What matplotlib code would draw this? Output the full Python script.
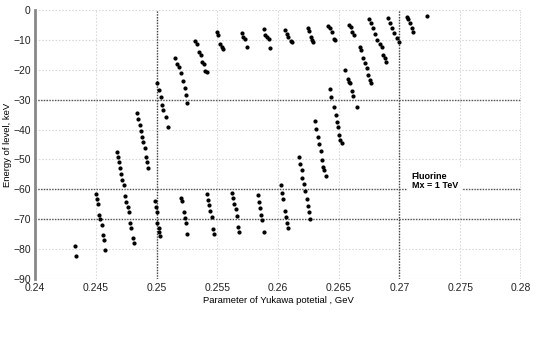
import numpy as np
import matplotlib
matplotlib.use('Agg')
import matplotlib.pyplot as plt

plt.rcParams['font.family'] = ['Liberation Sans', 'DejaVu Sans']

# energy levels vs Yukawa parameter, one chunk per level branch
yukawa = [
    0.24329, 0.24340,
    0.24500, 0.24509, 0.24521, 0.24529, 0.24537, 0.24551, 0.24560, 0.24570, 0.24579,
    0.24675, 0.24683, 0.24694, 0.24702, 0.24710, 0.24718, 0.24730, 0.24741, 0.24749,
    0.24763, 0.24771, 0.24784, 0.24793, 0.24804, 0.24815,
    0.24842, 0.24850, 0.24862, 0.24872, 0.24883, 0.24891, 0.24905, 0.24914, 0.24922, 0.24930,
    0.24985, 0.24993, 0.25002, 0.25007, 0.25018, 0.25023, 0.25031,
    0.25002, 0.25021, 0.25035, 0.25043, 0.25056, 0.25076, 0.25097,
    0.25152, 0.25169, 0.25185, 0.25199, 0.25216, 0.25232, 0.25245, 0.25253,
    0.25199, 0.25212, 0.25224, 0.25237, 0.25243, 0.25251,
    0.25314, 0.25331, 0.25347, 0.25364, 0.25377, 0.25393, 0.25399, 0.25413,
    0.25413, 0.25426, 0.25432, 0.25443, 0.25454, 0.25462, 0.25471,
    0.25495, 0.25509, 0.25523, 0.25537, 0.25550,
    0.25619, 0.25632, 0.25640, 0.25652, 0.25662, 0.25673, 0.25681,
    0.25701, 0.25714, 0.25728, 0.25742,
    0.25833, 0.25844, 0.25852, 0.25863, 0.25871, 0.25882,
    0.25887, 0.25893, 0.25912, 0.25926, 0.25934,
    0.26022, 0.26035, 0.26041, 0.26055, 0.26063, 0.26071, 0.26080,
    0.26058, 0.26072, 0.26085, 0.26104, 0.26113,
    0.26173, 0.26181, 0.26195, 0.26200, 0.26214, 0.26225, 0.26236, 0.26244, 0.26255, 0.26266,
    0.26244, 0.26258, 0.26269, 0.26282, 0.26291,
    0.26307, 0.26315, 0.26327, 0.26340, 0.26351, 0.26362, 0.26373, 0.26381, 0.26395,
    0.26414, 0.26428, 0.26442, 0.26461, 0.26469,
    0.26428, 0.26436, 0.26461, 0.26475, 0.26486, 0.26496, 0.26505, 0.26513, 0.26524,
    0.26554, 0.26573, 0.26584, 0.26593, 0.26606, 0.26620, 0.26648,
    0.26587, 0.26598, 0.26606, 0.26628,
    0.26675, 0.26683, 0.26702, 0.26716, 0.26730, 0.26743, 0.26757, 0.26765,
    0.26751, 0.26765, 0.26779, 0.26798, 0.26817, 0.26839, 0.26853,
    0.26862, 0.26881, 0.26889,
    0.26908, 0.26922, 0.26941, 0.26957, 0.26977, 0.26996,
    0.27059, 0.27072, 0.27086, 0.27100, 0.27108,
    0.27224,
]
energy = [
    -78.9, -82.2,
    -61.7, -63.3, -64.9, -68.6, -70.0, -71.9, -75.3, -77.1, -80.4,
    -47.4, -49.3, -51.0, -52.9, -54.9, -56.9, -58.7, -62.3, -64.1,
    -65.8, -67.5, -71.2, -72.8, -76.2, -77.9,
    -34.5, -36.6, -38.5, -40.5, -42.4, -44.3, -46.3, -49.1, -51.0, -52.8,
    -63.9, -65.8, -67.7, -71.4, -72.8, -74.4, -75.5,
    -24.4, -26.9, -29.2, -31.8, -33.5, -35.7, -39.0,
    -15.9, -18.1, -19.0, -21.2, -23.8, -26.2, -28.4, -31.0,
    -62.8, -63.8, -67.7, -69.6, -71.4, -75.1,
    -10.3, -11.4, -13.9, -15.1, -17.3, -18.1, -20.4, -20.6,
    -61.5, -63.5, -65.4, -67.4, -69.3, -73.2, -75.0,
    -7.3, -8.4, -11.4, -12.3, -13.1,
    -61.1, -63.0, -64.9, -66.7, -68.8, -72.5, -74.4,
    -7.8, -8.9, -9.8, -12.5,
    -61.9, -64.1, -66.1, -68.5, -70.3, -74.2,
    -6.5, -8.4, -8.9, -9.8, -12.6,
    -58.7, -61.1, -63.1, -67.3, -69.4, -71.2, -73.0,
    -6.7, -8.0, -9.1, -10.4, -10.8,
    -49.3, -51.5, -53.5, -56.1, -58.3, -60.6, -63.3, -65.6, -67.7, -69.9,
    -5.9, -7.0, -8.9, -10.0, -10.8,
    -37.3, -39.9, -42.6, -44.8, -47.2, -50.2, -52.6, -53.5, -55.5,
    -5.2, -5.9, -7.2, -9.8, -10.0,
    -26.4, -29.0, -32.6, -35.1, -37.5, -39.0, -41.7, -43.5, -44.6,
    -20.1, -23.2, -24.0, -24.5, -27.0, -28.8, -32.4,
    -5.0, -5.6, -7.2, -8.4,
    -12.3, -13.4, -16.2, -17.8, -19.5, -21.7, -23.4, -24.5,
    -3.0, -4.5, -5.9, -8.1, -10.0, -11.5, -12.3,
    -15.1, -16.2, -17.3,
    -2.8, -4.5, -6.1, -7.8, -9.5, -10.8,
    -2.2, -3.0, -4.5, -6.1, -7.2,
    -2.0,
]
x_ticks = [0.24, 0.245, 0.25, 0.255, 0.26, 0.265, 0.27, 0.275, 0.28]
x_ticklabels = ['0.24', '0.245', '0.25', '0.255', '0.26', '0.265', '0.27', '0.275', '0.28']
y_ticks = [0, -10, -20, -30, -40, -50, -60, -70, -80, -90]
dark_x = [0.25, 0.27, 0.28]
dark_y = [-30, -60, -70]

fig = plt.figure(figsize=(5.54, 3.4), dpi=100)
ax = fig.add_axes([0.0632, 0.1794, 0.8772, 0.7912])

# light dotted grid everywhere, darker dotted lines at selected values
for xv in x_ticks:
    ax.axvline(xv, color='#dadada', lw=0.8, ls=(0, (1.5, 1.5)), zorder=0)
for yv in y_ticks:
    ax.axhline(yv, color='#dadada', lw=0.8, ls=(0, (1.5, 1.5)), zorder=0)
for xv in dark_x:
    ax.axvline(xv, color='#444444', lw=1.0, ls=(0, (1, 1)), zorder=1)
for yv in dark_y:
    ax.axhline(yv, color='#555555', lw=1.0, ls=(0, (1, 1)), zorder=1)

ax.plot(yukawa, energy, ls='none', marker='o', ms=2.0, color='black', zorder=3)

ax.set_xlim(0.24, 0.28)
ax.set_ylim(-90, 0)
ax.set_xticks(x_ticks)
ax.set_xticklabels(x_ticklabels)
ax.set_yticks(y_ticks)
ax.tick_params(length=0, labelsize=7.5, colors='#222222', pad=3)

for s in ['top', 'right', 'bottom']:
    ax.spines[s].set_visible(False)
ax.spines['left'].set_color('#888888')
ax.spines['left'].set_linewidth(2)

ax.set_xlabel('Parameter of Yukawa potetial , GeV', fontsize=6.8, labelpad=2)
ax.set_ylabel('Energy of level, keV', fontsize=6.8, labelpad=1)

ax.text(0.2710, -54.2, 'Fluorine\nMx = 1 TeV', fontsize=6.5, fontweight='bold',
        va='top', ha='left', linespacing=1.0,
        bbox=dict(facecolor='white', edgecolor='none', pad=3), zorder=2)

fig.savefig('out.png', dpi=100)
